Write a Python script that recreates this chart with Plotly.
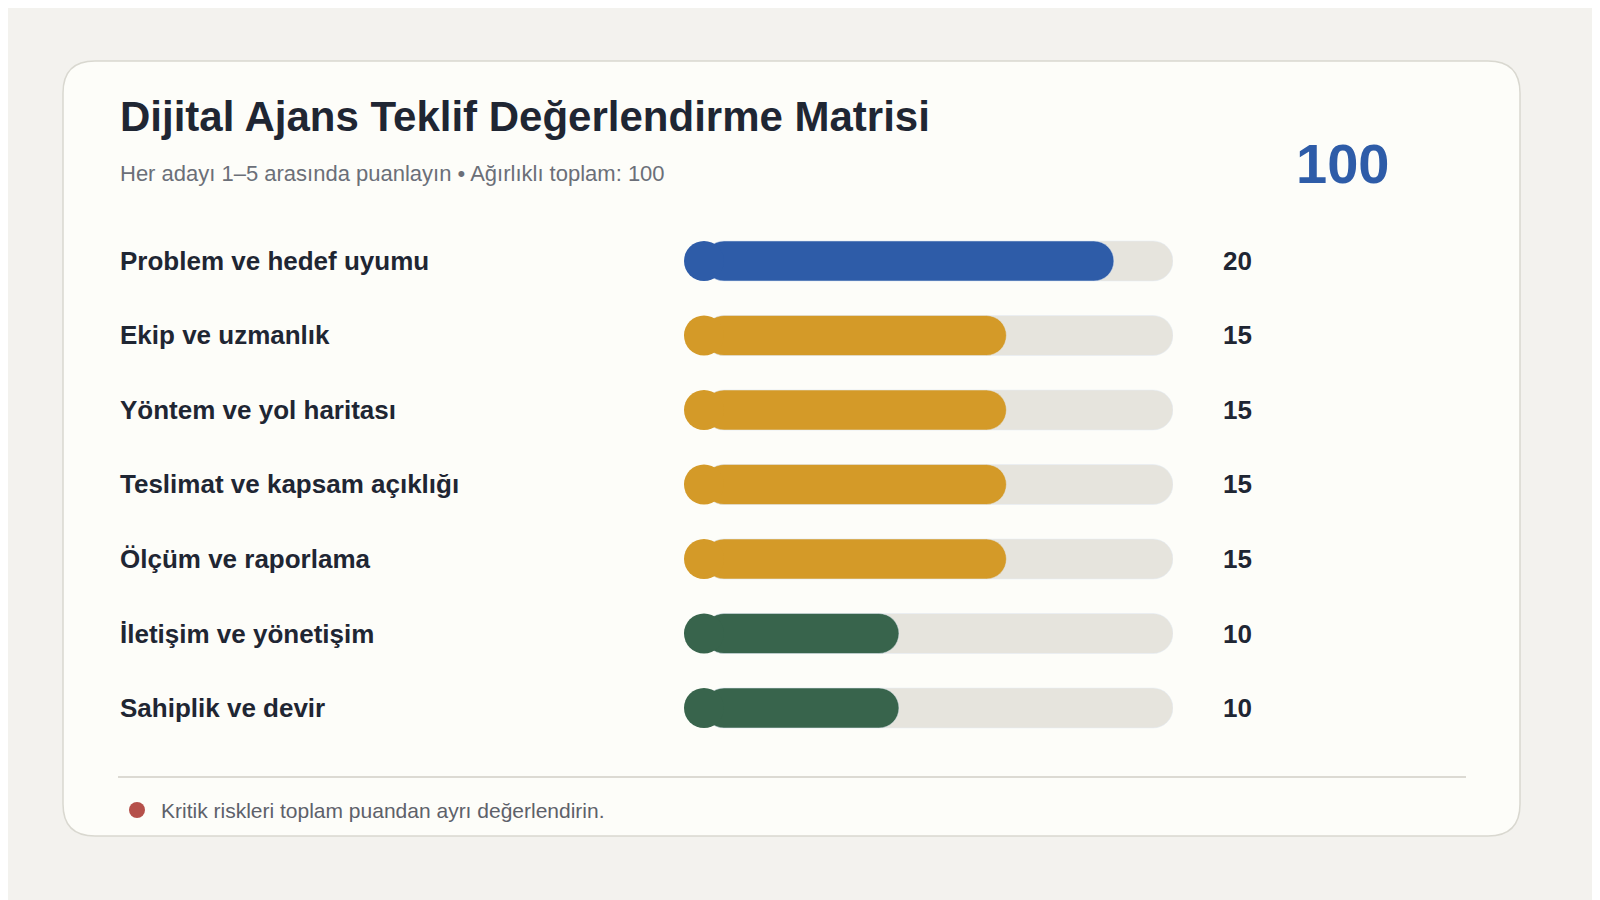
import plotly.graph_objects as go

criteria = ["Problem ve hedef uyumu", "Ekip ve uzmanlık", "Yöntem ve yol haritası",
            "Teslimat ve kapsam açıklığı", "Ölçüm ve raporlama", "İletişim ve yönetişim",
            "Sahiplik ve devir"]
weights = [20, 15, 15, 15, 15, 10, 10]
colors = ["#2e5ca8", "#d49a28", "#d49a28", "#d49a28", "#d49a28", "#38644c", "#38644c"]
total = 100
title = "Dijital Ajans Teklif Değerlendirme Matrisi"
subtitle = "Her adayı 1–5 arasında puanlayın • Ağırlıklı toplam: 100"
footer = "Kritik riskleri toplam puandan ayrı değerlendirin."
track_max = 22.75

W, H = 1600, 900
FONT = "Liberation Sans, Arial, sans-serif"
def px(x): return x / W
def py(y): return 1 - y / H

x0p, x1p = 676, 1165
unit = (x1p - x0p) / track_max
r = 20 / unit
ys = list(range(len(criteria)))

fig = go.Figure()
fig.add_trace(go.Bar(y=ys, x=[track_max - r] * len(ys), base=[r] * len(ys), orientation="h",
                     marker=dict(color="#e6e4dd", cornerradius=20), width=0.537, hoverinfo="skip"))
fig.add_trace(go.Bar(y=ys, x=[w - r for w in weights], base=[r] * len(ys), orientation="h",
                     marker=dict(color=colors, cornerradius=20), width=0.537, hoverinfo="skip"))
fig.add_trace(go.Scatter(y=ys, x=[r] * len(ys), mode="markers",
                         marker=dict(size=40, color=colors, line=dict(width=0)), hoverinfo="skip"))

def rounded(xa, ya, xb, yb, rad):
    return (f"M{px(xa+rad)},{py(ya)} L{px(xb-rad)},{py(ya)} Q{px(xb)},{py(ya)} {px(xb)},{py(ya+rad)} "
            f"L{px(xb)},{py(yb-rad)} Q{px(xb)},{py(yb)} {px(xb-rad)},{py(yb)} "
            f"L{px(xa+rad)},{py(yb)} Q{px(xa)},{py(yb)} {px(xa)},{py(yb-rad)} "
            f"L{px(xa)},{py(ya+rad)} Q{px(xa)},{py(ya)} {px(xa+rad)},{py(ya)} Z")

shapes = [
    dict(type="path", xref="paper", yref="paper", path=rounded(55, 53, 1512, 828, 32),
         fillcolor="#fdfdf9", line=dict(color="#d9d8d0", width=1.5), layer="below"),
    dict(type="line", xref="paper", yref="paper", x0=px(110), x1=px(1458), y0=py(769), y1=py(769),
         line=dict(color="#dcdad3", width=2)),
    dict(type="circle", xref="paper", yref="paper", x0=px(121), x1=px(137), y0=py(794), y1=py(810),
         fillcolor="#b5504a", line=dict(width=0)),
]

ann = [
    dict(text=f"<b>{title}</b>", x=px(110), y=py(108), xanchor="left", yanchor="middle",
         font=dict(size=42, color="#1f2633")),
    dict(text=subtitle, x=px(110), y=py(166), xanchor="left", yanchor="middle",
         font=dict(size=22, color="#6b6f78")),
    dict(text=f"<b>{total}</b>", x=px(1334), y=py(155), xanchor="center", yanchor="middle",
         font=dict(size=56, color="#2e5ca8")),
    dict(text=footer, x=px(151), y=py(802), xanchor="left", yanchor="middle",
         font=dict(size=21, color="#5d616a")),
]
for a in ann:
    a.update(xref="paper", yref="paper", showarrow=False)
for i, (c, w) in enumerate(zip(criteria, weights)):
    ann.append(dict(text=f"<b>{c}</b>", xref="paper", yref="y", x=px(110), y=i, xanchor="left",
                    yanchor="middle", showarrow=False, font=dict(size=26, color="#1f2633")))
    ann.append(dict(text=f"<b>{w}</b>", xref="paper", yref="y", x=px(1213), y=i, xanchor="left",
                    yanchor="middle", showarrow=False, font=dict(size=26, color="#1f2633")))

ytop, ybot = 253 - 37.25, 700 + 37.25
fig.update_layout(
    width=W, height=H, margin=dict(l=0, r=0, t=0, b=0),
    paper_bgcolor="#f3f2ee", plot_bgcolor="rgba(0,0,0,0)",
    barmode="overlay", showlegend=False, font=dict(family=FONT),
    xaxis=dict(range=[0, track_max], domain=[px(x0p), px(x1p)], visible=False, fixedrange=True),
    yaxis=dict(range=[6.5, -0.5], domain=[py(ybot), py(ytop)], visible=False, fixedrange=True),
    shapes=shapes, annotations=ann,
)
fig.write_html("out.html", config={"displayModeBar": False})
